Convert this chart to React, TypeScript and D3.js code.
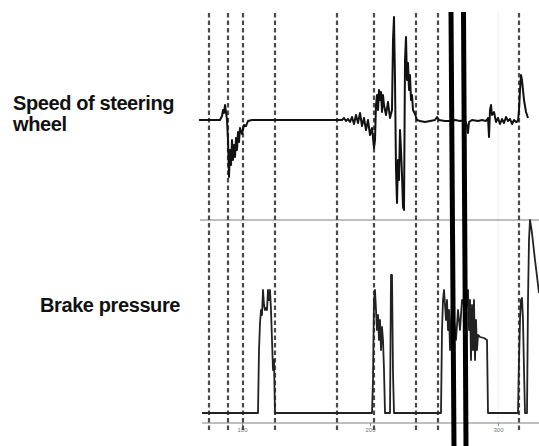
import { useRef, useEffect } from 'react';
import * as d3 from 'd3';

// x values are recorder sample numbers (1.28 samples per time unit)
const SAMPLES_PER_UNIT = 1.28;
const TIME_TICKS = [100, 200, 300];

// event markers (dashed) and the two thick cursor lines, in samples
const EVENT_SAMPLES = [95, 114, 129, 161, 223, 260, 302, 324, 405];
const CURSOR_TOP = [337, 349.5];
const CURSOR_BOTTOM = [340, 352];

// steering wheel speed: [sample, value]
const STEERING: [number, number][] = [
  [85, 0], [106, 0], [108, 4], [109, 10], [110, 7], [111, 15], [112, 8], [113, 0],
  [114, -20], [115, -57], [116, -30], [117, -45], [118, -20], [119, -40], [120, -25],
  [121, -37], [122, -18], [123, -30], [124, -12], [125, -22], [126, -8], [128, -14],
  [130, -5], [132, -6], [134, -1], [138, 0], [228, 0], [230, 2], [232, -1], [234, 1],
  [236, -2], [238, 3], [240, -4], [242, 5], [244, -3], [246, 7], [248, -6], [250, 2],
  [252, -10], [254, 0], [256, -15], [258, -8], [260, -28], [261, -20], [262, 15],
  [263, 25], [264, 10], [265, 30], [266, 20], [267, 28], [268, 8], [269, 25], [270, 15],
  [272, 5], [274, 18], [276, 2], [278, 10], [279, 80], [280, 103], [281, 40], [282, -50],
  [283, -83], [284, -40], [285, -60], [286, -10], [287, -30], [288, -55], [289, -87],
  [290, -90], [291, 60], [292, 83], [293, 40], [294, 57], [295, 30], [296, 45], [297, 20],
  [298, 25], [299, 10], [301, 6], [303, 0], [306, -1], [311, -2], [316, -1], [321, 0],
  [323, 3], [325, 0], [331, -1], [336, -1], [341, 0], [346, -1], [351, 0], [353, -6],
  [354, -13], [355, -2], [358, 0], [364, -1], [368, 0], [372, -1], [374, 2], [375, -17],
  [376, 10], [377, 15], [378, 5], [380, 8], [382, -2], [384, 2], [386, -4], [388, 1],
  [390, -3], [392, 3], [394, -1], [396, 1], [398, -4], [400, 0], [402, -2], [404, -1],
  [405, 10], [406, 30], [407, 45], [408, 40], [410, 20], [412, 8], [414, 2],
];

// brake pressure: [sample, value]
const BRAKE: [number, number][] = [
  [88, 0], [144, 0], [145, 31.5], [146, 45], [147, 51.5], [148, 49], [149, 61.5],
  [150, 54], [151, 51.5], [152, 52.5], [153, 51.5], [154, 61.5], [155, 56.5], [156, 61.5],
  [157, 51.5], [158, 36.5], [159, 21.5], [160, 26.5], [161, 0], [258, 0], [259, 16.5],
  [260, 56.5], [261, 61.5], [262, 51.5], [263, 41.5], [264, 49], [265, 36.5], [266, 46.5],
  [267, 31.5], [268, 43], [269, 36.5], [270, 21.5], [271, 0], [276, 0], [277, 69],
  [278, 69], [279, 20], [280, 0], [327, 0], [328, 41.5], [329, 56.5], [330, 61.5],
  [331, 54], [332, 46.5], [333, 56.5], [334, 41.5], [335, 51.5], [336, 31.5], [338, 56.5],
  [340, 46.5], [342, 36.5], [344, 51.5], [346, 41.5], [348, 56.5], [352, 51.5], [354, 61.5],
  [355, 41.5], [356, 56.5], [357, 26.5], [358, 54], [359, 31.5], [360, 56.5], [361, 26.5],
  [362, 46.5], [363, 31.5], [364, 39], [366, 38], [370, 37.5], [373, 36.5], [374, 0],
  [404, 0], [405, 26.5], [406, 46.5], [407, 56.5], [408, 57.5], [409, 46.5], [410, 21.5],
  [411, 0], [413, 0], [414, 56.5], [415, 86.5], [416, 96.5], [418, 90], [421, 76.5],
  [425, 60],
];

const W = 539;
const H = 446;

export default function App() {
  const svgRef = useRef<SVGSVGElement | null>(null);

  useEffect(() => {
    const svg = d3.select(svgRef.current);
    svg.selectAll('*').remove();

    const x = d3.scaleLinear().domain([85, 425]).range([199, 539]);
    const ySteer = d3.scaleLinear().domain([-100, 100]).range([220, 20]);
    const yBrake = d3.scaleLinear().domain([0, 100]).range([413, 213]);

    // labels
    const label = (txt: string, lx: number, ly: number) =>
      svg.append('text')
        .attr('x', lx)
        .attr('y', ly)
        .attr('font-family', '"Liberation Sans", Arial, sans-serif')
        .attr('font-weight', 'bold')
        .attr('font-size', 20)
        .attr('letter-spacing', -0.4)
        .attr('fill', '#111')
        .text(txt);
    label('Speed of steering', 13, 110);
    label('wheel', 13, 131);
    label('Brake pressure', 40, 312);

    // faint grid line at last tick
    svg.append('line')
      .attr('x1', x(300 * SAMPLES_PER_UNIT)).attr('x2', x(300 * SAMPLES_PER_UNIT))
      .attr('y1', 12).attr('y2', 423)
      .attr('stroke', '#eee')
      .attr('stroke-width', 1);

    // panel separator
    svg.append('line')
      .attr('x1', 200).attr('x2', W)
      .attr('y1', 220).attr('y2', 220)
      .attr('stroke', '#a8a8a8')
      .attr('stroke-width', 1.5);

    // time axis
    const axis = svg.append('g')
      .attr('transform', 'translate(0,423)')
      .call(
        d3.axisBottom(x)
          .tickValues(TIME_TICKS.map((t) => t * SAMPLES_PER_UNIT))
          .tickFormat((d) => String(Math.round(+d / SAMPLES_PER_UNIT)))
          .tickSize(3)
          .tickSizeOuter(0)
      );
    axis.select('.domain')
      .attr('stroke', '#aaa')
      .attr('stroke-width', 1.5)
      .attr('d', `M${x(88)},0H${W}`);
    axis.selectAll('.tick line').attr('stroke', '#888');
    axis.selectAll('.tick text')
      .attr('fill', '#777')
      .attr('font-size', 6)
      .attr('font-family', '"Liberation Sans", Arial, sans-serif')
      .attr('dy', '0.5em');

    // event markers
    svg.selectAll('.event')
      .data(EVENT_SAMPLES)
      .join('line')
      .attr('class', 'event')
      .attr('x1', (d) => x(d))
      .attr('x2', (d) => x(d))
      .attr('y1', 13)
      .attr('y2', 433)
      .attr('stroke', '#4a4a4a')
      .attr('stroke-width', 2.2)
      .attr('stroke-dasharray', '4.5,3');

    // traces
    const steerLine = d3.line<[number, number]>()
      .x((d) => x(d[0]))
      .y((d) => ySteer(d[1]));
    svg.append('path')
      .datum(STEERING)
      .attr('d', steerLine)
      .attr('fill', 'none')
      .attr('stroke', '#111')
      .attr('stroke-width', 2)
      .attr('stroke-linejoin', 'round');

    const brakeLine = d3.line<[number, number]>()
      .x((d) => x(d[0]))
      .y((d) => yBrake(d[1]));
    svg.append('path')
      .datum(BRAKE)
      .attr('d', brakeLine)
      .attr('fill', 'none')
      .attr('stroke', '#222')
      .attr('stroke-width', 1.8)
      .attr('stroke-linejoin', 'round');

    // cursor lines
    svg.selectAll('.cursor')
      .data(d3.range(CURSOR_TOP.length))
      .join('line')
      .attr('class', 'cursor')
      .attr('x1', (i) => x(CURSOR_TOP[i]))
      .attr('x2', (i) => x(CURSOR_BOTTOM[i]))
      .attr('y1', 12)
      .attr('y2', H)
      .attr('stroke', '#000')
      .attr('stroke-width', 5);
  }, []);

  return (
    <svg
      ref={svgRef}
      width={W}
      height={H}
      style={{ position: 'absolute', left: 0, top: 0, background: '#fff' }}
    />
  );
}
